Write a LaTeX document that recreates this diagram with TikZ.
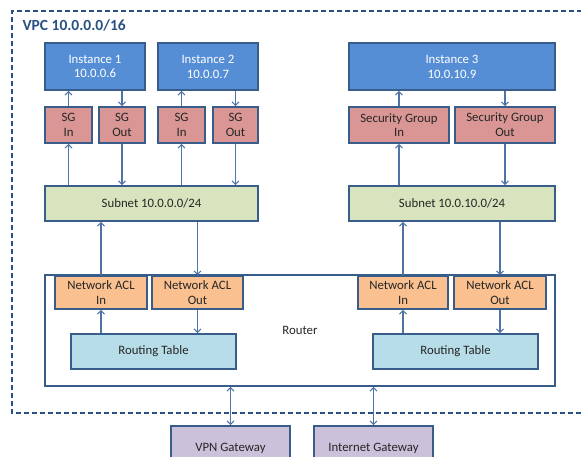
\documentclass[tikz,border=0pt]{standalone}
\usepackage{fontspec}
\setmainfont{Carlito}
\usetikzlibrary{arrows.meta}
\definecolor{bord}{RGB}{56,93,138}
\definecolor{dashc}{RGB}{40,80,130}
\definecolor{arrc}{RGB}{80,115,165}
\definecolor{instf}{RGB}{85,142,213}
\definecolor{sgf}{RGB}{217,150,148}
\definecolor{subf}{RGB}{215,228,189}
\definecolor{aclf}{RGB}{250,192,144}
\definecolor{rtf}{RGB}{183,222,232}
\definecolor{gwf}{RGB}{204,193,218}
\definecolor{txt}{RGB}{38,38,38}
\tikzset{
  boxbase/.style={draw=bord, line width=1.6pt, inner sep=1pt, align=center,
    font=\fontsize{12.8}{14.8}\selectfont, text=txt},
  instbox/.style={boxbase, fill=instf, text=white, minimum height=47pt},
  sgbox/.style={boxbase, fill=sgf, minimum height=36pt},
  subbox/.style={boxbase, fill=subf, minimum height=35pt},
  aclbox/.style={boxbase, fill=aclf, minimum height=33pt},
  rtbox/.style={boxbase, fill=rtf, minimum width=165pt, minimum height=35pt},
  gwbox/.style={boxbase, fill=gwf, minimum width=119pt, minimum height=44pt},
  routerbox/.style={draw=bord, line width=1.6pt, minimum width=510pt, minimum height=111pt,
    font=\fontsize{12.8}{14.8}\selectfont, text=txt},
  arr/.style={draw=arrc, line width=1.1pt, -{Straight Barb[length=3.5pt,width=7pt]}},
  darr/.style={draw=arrc, line width=1.1pt, {Straight Barb[length=3.5pt,width=7pt]}-{Straight Barb[length=3.5pt,width=7pt]}},
}
\begin{document}
\begin{tikzpicture}[x=1pt,y=-1pt]
\useasboundingbox (0,0) rectangle (581,457);
% VPC dashed boundary
\draw[dashc, line width=1.5pt, dash pattern=on 5pt off 3pt] (581,413) -- (12,413) -- (12,11) -- (581,11);
\node[anchor=west, font=\fontsize{15.5}{17}\selectfont\bfseries, text=dashc] (vpc) at (19,25) {VPC 10.0.0.0/16};

% instances
\node[instbox, minimum width=100pt] (inst1) at (95,66.5) {Instance 1\\10.0.0.6};
\node[instbox, minimum width=100pt] (inst2) at (208,66.5) {Instance 2\\10.0.0.7};
\node[instbox, minimum width=206pt] (inst3) at (452,66.5) {Instance 3\\10.0.10.9};

% security groups
\node[sgbox, minimum width=47pt] (sg1in) at (68.5,125) {SG\\In};
\node[sgbox, minimum width=46pt] (sg1out) at (122,125) {SG\\Out};
\node[sgbox, minimum width=47pt] (sg2in) at (181.5,125) {SG\\In};
\node[sgbox, minimum width=45pt] (sg2out) at (235.5,125) {SG\\Out};
\node[sgbox, minimum width=100pt] (sg3in) at (399,125) {Security Group\\In};
\node[sgbox, minimum width=100pt] (sg3out) at (505,125) {Security Group\\Out};

% subnets
\node[subbox, minimum width=213pt] (sub1) at (151.5,203.5) {Subnet 10.0.0.0/24};
\node[subbox, minimum width=206pt] (sub2) at (452,203.5) {Subnet 10.0.10.0/24};

% router
\node[routerbox] (router) at (300,330.5) {Router};

% network ACLs
\node[aclbox, minimum width=92pt] (acl1in) at (101,292.5) {Network ACL\\In};
\node[aclbox, minimum width=91pt] (acl1out) at (197.5,292.5) {Network ACL\\Out};
\node[aclbox, minimum width=90pt] (acl2in) at (403,292.5) {Network ACL\\In};
\node[aclbox, minimum width=92pt] (acl2out) at (500,292.5) {Network ACL\\Out};

% routing tables
\node[rtbox] (rt1) at (153.5,351.5) {Routing Table};
\node[rtbox] (rt2) at (455.5,351.5) {Routing Table};

% gateways
\node[gwbox] (vpn) at (230.5,448) {VPN Gateway};
\node[gwbox] (igw) at (373.5,448) {Internet Gateway};

% SG <-> instance
\foreach \i/\o/\n in {sg1in/sg1out/inst1, sg2in/sg2out/inst2, sg3in/sg3out/inst3}{
  \draw[arr] (\i.north) -- (\i.north |- \n.south);
  \draw[arr] (\o.north |- \n.south) -- (\o.north);
}
% subnet <-> SG
\foreach \i/\o/\s in {sg1in/sg1out/sub1, sg2in/sg2out/sub1, sg3in/sg3out/sub2}{
  \draw[arr] (\i.south |- \s.north) -- (\i.south);
  \draw[arr] (\o.south) -- (\o.south |- \s.north);
}
% ACL <-> subnet
\foreach \i/\o/\s in {acl1in/acl1out/sub1, acl2in/acl2out/sub2}{
  \draw[arr] (\i.north) -- (\i.north |- \s.south);
  \draw[arr] (\o.north |- \s.south) -- (\o.north);
}
% routing table <-> ACL
\foreach \i/\o/\r in {acl1in/acl1out/rt1, acl2in/acl2out/rt2}{
  \draw[arr] (\i.south |- \r.north) -- (\i.south);
  \draw[arr] (\o.south) -- (\o.south |- \r.north);
}
% router <-> gateways
\draw[darr] (vpn.north |- router.south) -- (vpn.north);
\draw[darr] (igw.north |- router.south) -- (igw.north);
\end{tikzpicture}
\end{document}
